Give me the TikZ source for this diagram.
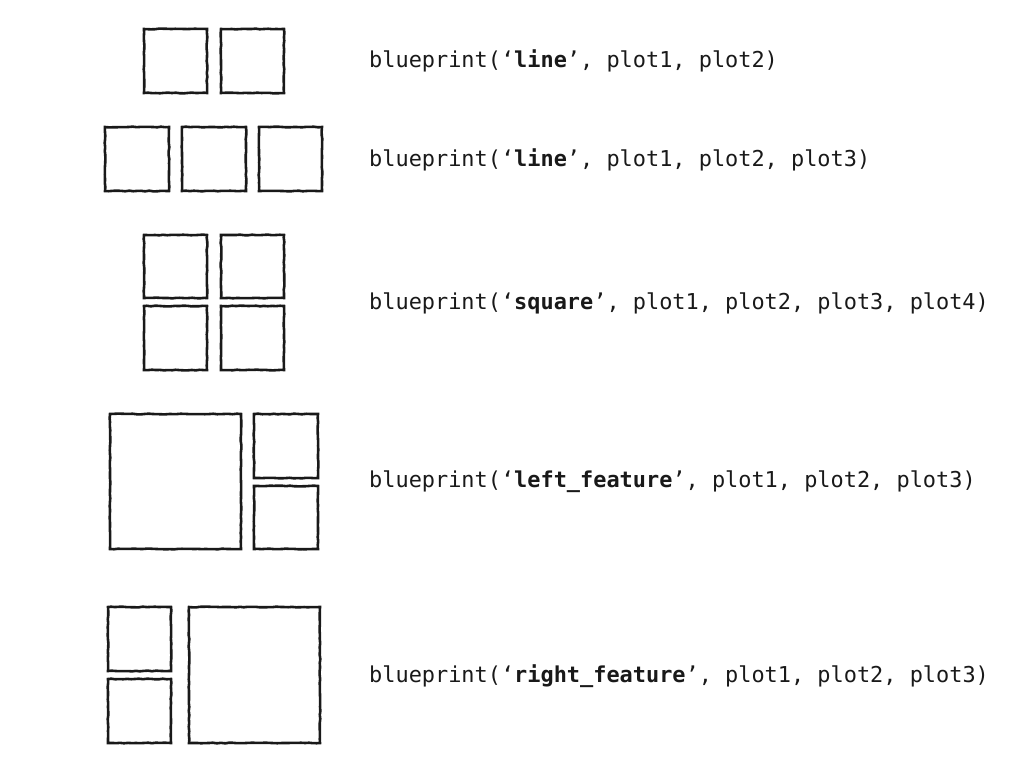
\documentclass[tikz,border=0pt]{standalone}
\usepackage{fontspec}
\setmonofont{DejaVu Sans Mono}
\usetikzlibrary{decorations.pathmorphing}
\tikzset{
  panel/.style={draw=black!90, line width=2.6pt, line join=miter,
    decorate, decoration={random steps, segment length=4pt, amplitude=0.35pt}},
  code/.style={anchor=west, inner sep=0pt, font=\ttfamily\fontsize{21.9}{24}\selectfont, text=black!90}
}
\begin{document}
\begin{tikzpicture}[x=1pt,y=-1pt]
\pgfmathsetseed{7}
\useasboundingbox (0,0) rectangle (1024,768);
% row 1
\draw[panel] (144,29) rectangle (207,93);
\draw[panel] (221,29) rectangle (284,93);
% row 2
\draw[panel] (105,127) rectangle (169,191);
\draw[panel] (182,127) rectangle (246,191);
\draw[panel] (259,127) rectangle (322,191);
% row 3
\draw[panel] (144,235) rectangle (207,298);
\draw[panel] (221,235) rectangle (284,298);
\draw[panel] (144,306) rectangle (207,370);
\draw[panel] (221,306) rectangle (284,370);
% row 4
\draw[panel] (110,414) rectangle (241,549);
\draw[panel] (254,414) rectangle (318,478);
\draw[panel] (254,486) rectangle (318,549);
% row 5
\draw[panel] (108,607) rectangle (171,671);
\draw[panel] (108,679) rectangle (171,743);
\draw[panel] (189,607) rectangle (320,743);
% texts
\node[code] (t1) at (369,61) {blueprint(‘\textbf{line}’, plot1, plot2)};
\node[code] (t2) at (369,160) {blueprint(‘\textbf{line}’, plot1, plot2, plot3)};
\node[code] (t3) at (369,303) {blueprint(‘\textbf{square}’, plot1, plot2, plot3, plot4)};
\node[code] (t4) at (369,482) {blueprint(‘\textbf{left\_feature}’, plot1, plot2, plot3)};
\node[code] (t5) at (369,676) {blueprint(‘\textbf{right\_feature}’, plot1, plot2, plot3)};
\end{tikzpicture}
\end{document}
